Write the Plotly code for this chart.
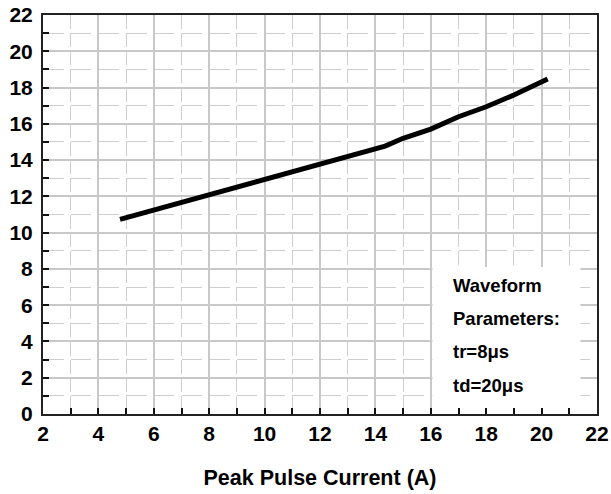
import plotly.graph_objects as go

# Data
current_a = [4.78, 6, 7, 8, 9, 10, 11, 12, 13, 14, 14.35, 15, 16, 17, 18, 19, 20.22]
voltage_v = [10.73, 11.25, 11.65, 12.07, 12.5, 12.9, 13.34, 13.82, 14.22, 14.64, 14.77,
             15.2, 15.71, 16.39, 16.94, 17.59, 18.47]

x_ticks = [2, 4, 6, 8, 10, 12, 14, 16, 18, 20, 22]
y_ticks = [0, 2, 4, 6, 8, 10, 12, 14, 16, 18, 20, 22]
note_lines = ["Waveform", "Parameters:", "tr=8μs", "td=20μs"]
note_y = [7.1, 5.25, 3.42, 1.56]

FONT = "Liberation Sans, Arial, sans-serif"

fig = go.Figure()
fig.add_trace(go.Scatter(
    x=current_a, y=voltage_v, mode="lines",
    line=dict(color="black", width=5),
    showlegend=False, hoverinfo="skip",
))

# white box behind the waveform note (hides grid)
fig.add_shape(type="rect", xref="x", yref="y", x0=16.06, x1=21.4, y0=0.12, y1=8.1,
              fillcolor="white", line=dict(width=0), layer="between")

for txt, yy in zip(note_lines, note_y):
    fig.add_annotation(x=16.72, y=yy, xref="x", yref="y", text=txt, showarrow=False,
                       xanchor="left", yanchor="middle",
                       font=dict(family=FONT, size=18.5, color="black", weight="bold"))

axis_common = dict(
    showline=True, linecolor="#222222", linewidth=2, mirror=True,
    ticks="inside", ticklen=6, tickcolor="#111111", tickwidth=1.5,
    showgrid=True, gridcolor="#c8c8c8", gridwidth=1.5,
    zeroline=False, automargin=False,
    tickfont=dict(family=FONT, size=21, color="black", weight="bold"),
)

fig.update_xaxes(
    **axis_common,
    range=[2, 22], tickmode="array", tickvals=x_ticks, ticktext=[str(v) for v in x_ticks],
    minor=dict(dtick=1, tick0=2, showgrid=True, gridcolor="#cecece", gridwidth=1.4,
               griddash="14px,4.14px", ticks="inside", ticklen=6,
               tickcolor="#111111", tickwidth=1.5),
    title=dict(text="Peak Pulse Current (A)", standoff=26,
               font=dict(family=FONT, size=21.5, color="black", weight="bold")),
)
fig.update_yaxes(
    **axis_common,
    range=[0, 22], tickmode="array", tickvals=y_ticks, ticktext=[str(v) for v in y_ticks],
    ticklabelstandoff=4,
    minor=dict(dtick=1, tick0=0, showgrid=True, gridcolor="#cecece", gridwidth=1.4,
               griddash="20.5px,7.2px", ticks="inside", ticklen=6,
               tickcolor="#111111", tickwidth=1.5),
)

fig.update_layout(
    width=611, height=494,
    margin=dict(l=43, r=14, t=15, b=80),
    paper_bgcolor="white", plot_bgcolor="white",
    font=dict(family=FONT, color="black"),
)

fig.write_html(
    "out.html",
    config={"displayModeBar": False},
    post_script="document.body.style.margin='0';document.body.style.overflow='hidden';",
)
